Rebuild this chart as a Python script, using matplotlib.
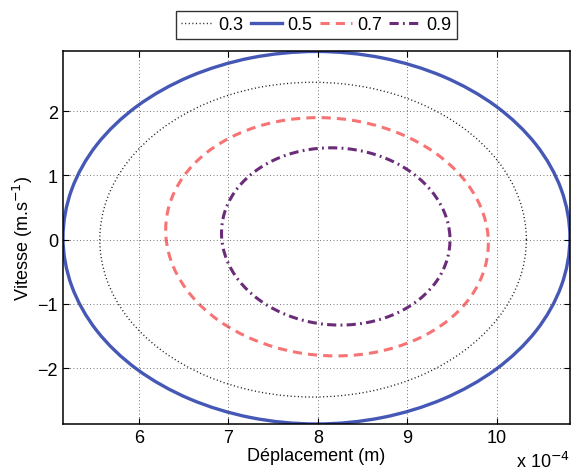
import matplotlib
matplotlib.use("Agg")
import matplotlib.pyplot as plt
import numpy as np
from matplotlib.path import Path
from matplotlib.patches import PathPatch
from matplotlib.lines import Line2D

plt.rcParams['font.family'] = ['Liberation Sans', 'DejaVu Sans']
plt.rcParams['font.size'] = 13

# displacement in units of 1e-4 m, velocity in m/s (closed orbits)
labels = ['0.3', '0.5', '0.7', '0.9']

x_03 = [10.330, 10.249, 10.011, 9.632, 9.139, 8.564, 7.947, 7.330, 6.756, 6.262, 5.883, 5.645,
        5.564, 5.645, 5.883, 6.262, 6.756, 7.330, 7.947, 8.564, 9.139, 9.632, 10.011, 10.249]
v_03 = [0.0, 0.634, 1.225, 1.732, 2.122, 2.367, 2.45, 2.367, 2.122, 1.732, 1.225, 0.634,
        0.0, -0.634, -1.225, -1.732, -2.122, -2.367, -2.45, -2.367, -2.122, -1.732, -1.225, -0.634]

x_05 = [10.817, 10.720, 10.438, 9.988, 9.401, 8.718, 7.985, 7.252, 6.569, 5.982, 5.532, 5.250,
        5.153, 5.250, 5.532, 5.982, 6.569, 7.252, 7.985, 8.718, 9.401, 9.988, 10.438, 10.720]
v_05 = [0.03, 0.78, 1.48, 2.08, 2.54, 2.83, 2.93, 2.83, 2.54, 2.08, 1.48, 0.78,
        0.03, -0.72, -1.42, -2.02, -2.48, -2.77, -2.87, -2.77, -2.48, -2.02, -1.42, -0.72]

x_07 = [9.903, 9.815, 9.611, 9.305, 8.916, 8.472, 8.003, 7.540, 7.116, 6.759, 6.494, 6.338,
        6.303, 6.390, 6.594, 6.900, 7.289, 7.733, 8.203, 8.665, 9.089, 9.446, 9.711, 9.867]
v_07 = [0.045, 0.525, 0.973, 1.357, 1.651, 1.837, 1.90, 1.837, 1.651, 1.357, 0.973, 0.525,
        0.045, -0.435, -0.883, -1.267, -1.561, -1.747, -1.81, -1.747, -1.561, -1.267, -0.883, -0.435]

x_09 = [9.476, 9.419, 9.280, 9.067, 8.795, 8.482, 8.150, 7.822, 7.519, 7.263, 7.070, 6.955,
        6.925, 6.981, 7.120, 7.334, 7.606, 7.918, 8.250, 8.578, 8.881, 9.137, 9.330, 9.445]
v_09 = [0.05, 0.407, 0.74, 1.026, 1.245, 1.383, 1.43, 1.383, 1.245, 1.026, 0.74, 0.407,
        0.05, -0.307, -0.64, -0.926, -1.145, -1.283, -1.33, -1.283, -1.145, -0.926, -0.64, -0.307]

styles = [
    dict(color='#222222', lw=1.0, linestyle=(0, (0.8, 1.8))),
    dict(color='#4558b6', lw=2.4, linestyle='-'),
    dict(color='#f87373', lw=2.2, linestyle=(0, (3, 2))),
    dict(color='#6a2c78', lw=2.2, linestyle=(0, (3, 1.4, 0.6, 1.4))),
]


def orbit_path(xs, ys):
    # closed Catmull-Rom through the read points, drawn as cubic Bezier segments
    pts = np.column_stack([xs, ys])
    n = len(pts)
    verts = [pts[0]]
    codes = [Path.MOVETO]
    for i in range(n):
        p0, p1, p2, p3 = pts[i - 1], pts[i], pts[(i + 1) % n], pts[(i + 2) % n]
        verts += [p1 + (p2 - p0) / 6, p2 - (p3 - p1) / 6, p2]
        codes += [Path.CURVE4] * 3
    return Path(verts, codes)


fig = plt.figure(figsize=(5.71, 4.77), dpi=100)
ax = fig.add_axes([0.110, 0.109, 0.888, 0.781])

handles = []
for xs, vs, st in zip([x_03, x_05, x_07, x_09], [v_03, v_05, v_07, v_09], styles):
    ax.add_patch(PathPatch(orbit_path(xs, vs), fill=False, edgecolor=st['color'],
                           lw=st['lw'], linestyle=st['linestyle'], capstyle='butt'))
    handles.append(Line2D([], [], **st))

ax.set_xlim(5.151, 10.816)
ax.set_ylim(-2.87, 2.93)
ax.set_xticks([6, 7, 8, 9, 10])
ax.set_yticks([-2, -1, 0, 1, 2])
ax.grid(True, color='#444444', linestyle=(0, (1, 3)), lw=0.6)
ax.tick_params(direction='in', top=True, right=True, length=4, width=0.8, labelsize=13)
for s in ax.spines.values():
    s.set_linewidth(1.1)

ax.set_xlabel('Déplacement (m)')
ax.xaxis.set_label_coords(0.5, -0.063)
ax.set_ylabel('Vitesse (m.s$^{-1}$)')
ax.yaxis.set_label_coords(-0.055, 0.5)
fig.text(0.998, 0.01, 'x 10$^{-4}$', ha='right', va='bottom', fontsize=13)

leg = fig.legend(handles, labels, ncol=4, loc='center',
                 bbox_to_anchor=(0.554, 0.946), frameon=True, fancybox=False,
                 edgecolor='black', handlelength=1.75, handletextpad=0.3,
                 columnspacing=0.4, borderpad=0.3, fontsize=13)
leg.get_frame().set_linewidth(1.0)

fig.savefig('out.png', dpi=100)
